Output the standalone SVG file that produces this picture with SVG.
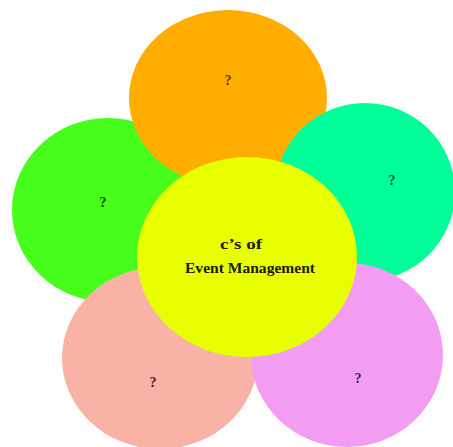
<svg xmlns="http://www.w3.org/2000/svg" width="453" height="447" viewBox="0 0 453 447">
<style>
.q{font-family:"Liberation Serif","Times New Roman",serif;font-weight:bold;font-size:14px;text-anchor:middle}
.t{font-family:"Liberation Serif","Times New Roman",serif;font-weight:bold;font-size:15px;fill:#1a1a00}
</style>
<rect width="453" height="447" fill="#ffffff"/>
<g id="node-green"><ellipse cx="108" cy="210" rx="96" ry="92" fill="#46FD1C"/><text class="q" x="103" y="207" fill="#0b4a00">?</text></g>
<g id="node-orange"><ellipse cx="228" cy="98" rx="99" ry="88" fill="#FFAE00"/><text class="q" x="228" y="85" fill="#5a3a00">?</text></g>
<g id="node-teal"><ellipse cx="365" cy="192" rx="90" ry="89" fill="#00FE98"/><text class="q" x="392" y="185" fill="#0a4a30">?</text></g>
<g id="node-pink"><ellipse cx="160" cy="358" rx="98" ry="91" fill="#F9B2A6"/><text class="q" x="153" y="387" fill="#4a2020">?</text></g>
<g id="node-violet"><ellipse cx="347" cy="355" rx="96" ry="92" fill="#F29DF2"/><text class="q" x="358" y="383" fill="#3a1a5a">?</text></g>
<g id="node-center"><ellipse cx="247" cy="257" rx="110" ry="100" fill="#E8FF00"/><text class="t" x="220" y="249" textLength="42" lengthAdjust="spacingAndGlyphs">c’s of</text><text class="t" x="185" y="273" textLength="130" lengthAdjust="spacingAndGlyphs">Event Management</text></g>
<g id="connectors"></g>
</svg>
